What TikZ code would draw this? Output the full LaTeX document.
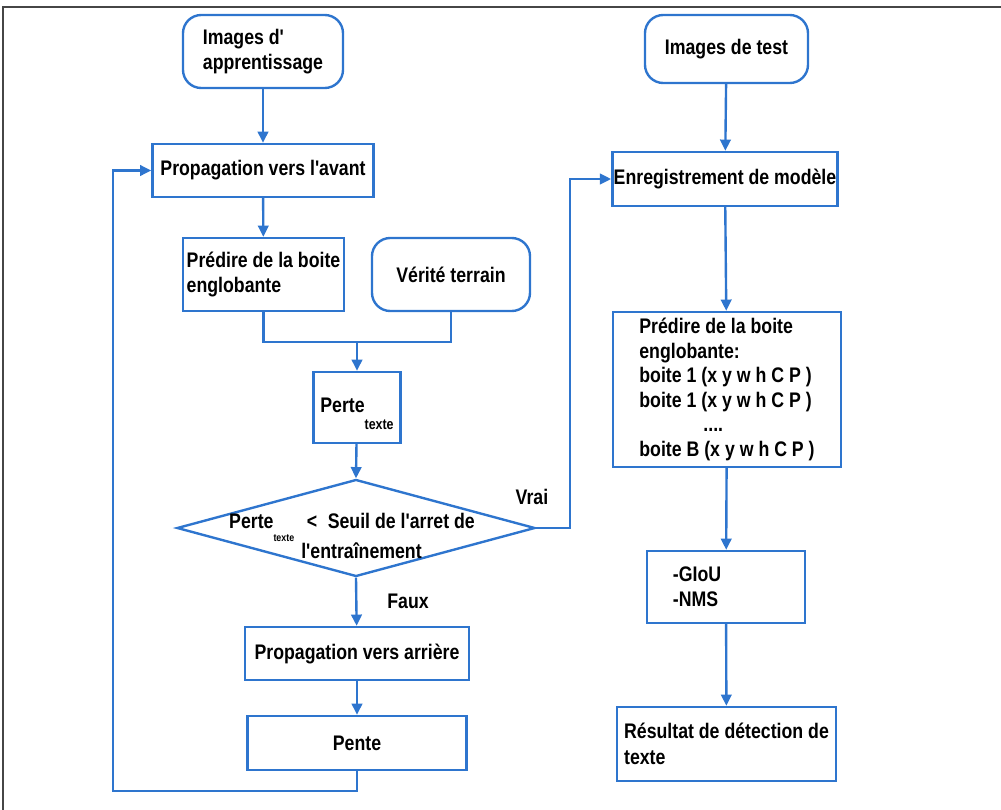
\documentclass[tikz,border=0pt]{standalone}
\usepackage{fontspec}
\setmainfont{Liberation Sans}[FakeStretch=0.84,Ligatures=TeXOff]
\usetikzlibrary{arrows.meta,shapes.geometric}
\definecolor{bleu}{RGB}{46,117,206}
\definecolor{cadre}{RGB}{70,70,70}

\begin{document}
\begin{tikzpicture}[x=0.025cm,y=-0.025cm,
	texte/.style={font=\bfseries\fontsize{15}{18}\selectfont},
	boite/.style={texte,draw=bleu,line width=1.7pt,rectangle,inner sep=2pt},
	arrondi/.style={boite,rounded corners=13pt},
	losange/.style={draw=bleu,line width=1.7pt,diamond,inner sep=0pt},
	trait/.style={draw=bleu,line width=1.7pt},
	fleche/.style={trait,-{Triangle[length=8pt,width=7.5pt]}}]
	\useasboundingbox (0,0) rectangle (1001,810) ;
	\draw[cadre,line width=1.3pt] (3,810) -- (3,7) -- (1001,7) ;
	% apprentissage
	\node[arrondi,align=left,minimum width=4cm,minimum height=1.825cm] (appr) at (263,51.5) {Images d'\\apprentissage} ;
	\node[boite,minimum width=5.525cm,minimum height=1.325cm] (avant) at (263,170.5) {Propagation vers l'avant} ;
	\node[boite,align=left,minimum width=4.025cm,minimum height=1.825cm] (predg) at (263.5,274.5) {Pr\'edire de la boite\\englobante} ;
	\node[arrondi,minimum width=3.95cm,minimum height=1.825cm] (verite) at (451,274.5) {V\'erit\'e terrain} ;
	\node[boite,minimum width=2.175cm,minimum height=1.775cm,text height=19pt,text depth=12.6pt] (perte) at (357,407.5) {Perte\raisebox{-12.5pt}{\fontsize{10.5}{10.5}\selectfont texte}} ;
	\node[losange,minimum width=8.95cm,minimum height=2.425cm] (seuil) at (356,528) {} ;
	\node[texte,align=center] (txtseuil) at (352,536) {Perte\raisebox{-9pt}{\fontsize{7.5}{7.5}\selectfont texte}\hspace{0.6em}<\hspace{0.5em}Seuil de l'arret de\\\hspace{0.9em}l'entra\^inement} ;
	\node[boite,minimum width=5.6cm,minimum height=1.325cm] (arriere) at (357,653.5) {Propagation vers arri\`ere} ;
	\node[boite,minimum width=5.475cm,minimum height=1.35cm] (pente) at (357,743) {Pente} ;
	\node[texte] (vrai) at (532,497) {Vrai} ;
	\node[texte] (faux) at (408,601) {Faux} ;
	% test
	\node[arrondi,minimum width=4.075cm,minimum height=1.7cm] (test) at (726.5,49) {Images de test} ;
	\node[boite,minimum width=5.5cm,minimum height=1.35cm,inner sep=1pt] (enreg) at (725,179) {Enregistrement de mod\`ele} ;
	\node[boite,align=left,minimum width=5.7cm,minimum height=3.875cm,font=\bfseries\fontsize{15}{17.5}\selectfont] (predd) at (727,389.5) {Pr\'edire de la boite\\englobante:\\boite 1 (x y w h C P )\\boite 1 (x y w h C P )\\\hspace*{1.6cm}....\\boite B (x y w h C P )} ;
	\node[boite,align=left,text width=2.65cm,inner xsep=0.65cm,minimum height=1.8cm] (giou) at (726,587) {-GIoU\\-NMS} ;
	\node[boite,align=left,minimum width=5.475cm,minimum height=1.85cm] (result) at (726.5,744) {R\'esultat de d\'etection de\\texte} ;
	% connecteurs
	\coordinate (jonction) at (357,342) ;
	\coordinate (retour) at (113,791) ;
	\coordinate (coude) at (570,528) ;
	\draw[fleche] (appr) -- (avant) ;
	\draw[fleche] (avant) -- (predg) ;
	\draw[trait] (predg.south) |- (jonction) -| (verite.south) ;
	\draw[fleche] (jonction) -- (perte.north) ;
	\draw[fleche] (perte) -- (seuil.north) ;
	\draw[fleche] (seuil.south) -- (arriere) ;
	\draw[fleche] (arriere) -- (pente) ;
	\draw[fleche] (pente.south) |- (retour) |- (avant.west) ;
	\draw[fleche] (seuil.east) -- (coude) |- (enreg.west) ;
	\draw[fleche] (test) -- (enreg) ;
	\draw[fleche] (enreg) -- (predd) ;
	\draw[fleche] (predd) -- (giou) ;
	\draw[fleche] (giou) -- (result) ;
\end{tikzpicture}
\end{document}
